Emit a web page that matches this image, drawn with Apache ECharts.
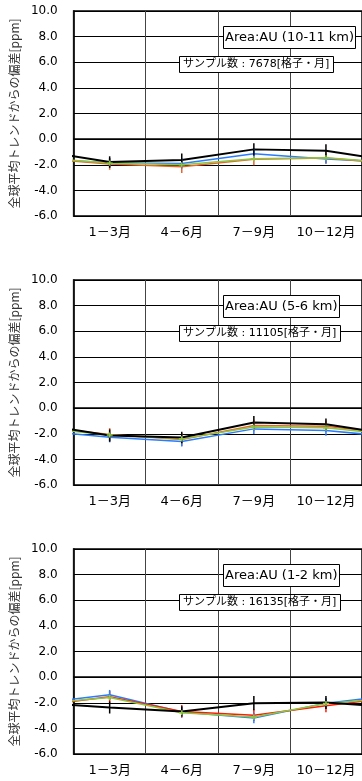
<!DOCTYPE html>
<html>
<head>
<meta charset="utf-8">
<script src="https://cdn.jsdelivr.net/npm/echarts@6/dist/echarts.min.js"></script>
<style>
  html, body { margin: 0; padding: 0; background: #fff; }
  #main { width: 362px; height: 781px; }
</style>
</head>
<body>
<div id="main"></div>
<script>
// categories and panel labels
const months = ['1－3月', '4－6月', '7－9月', '10－12月'];
const areaNames = ['Area:AU (10-11 km)', 'Area:AU (5-6 km)', 'Area:AU (1-2 km)'];
const sampleCounts = [7678, 11105, 16135];
const yName = '全球平均トレンドからの偏差[ppm]';

// panel 1: 10-11 km
const black1 = [-1.79, -1.63, -0.80, -0.90];
const blue1  = [-1.84, -1.90, -1.14, -1.55];
const red1   = [-1.94, -2.15, -1.58, -1.48];
const green1 = [-1.87, -2.00, -1.53, -1.45];
const errBlack1 = [0.45, 0.5, 0.47, 0.5];
const errBlue1  = [0.35, 0.4, 0.4, 0.35];
const errRed1   = [0.45, 0.5, 0.45, 0.45];
const errGreen1 = [0.2, 0.2, 0.2, 0.2];

// panel 2: 5-6 km
const black2 = [-2.14, -2.29, -1.12, -1.25];
const blue2  = [-2.27, -2.60, -1.62, -1.75];
const red2   = [-2.06, -2.45, -1.36, -1.41];
const green2 = [-2.10, -2.40, -1.48, -1.54];
const errBlack2 = [0.48, 0.45, 0.5, 0.45];
const errBlue2  = [0.4, 0.4, 0.4, 0.4];
const errRed2   = [0.5, 0.5, 0.45, 0.45];
const errGreen2 = [0.2, 0.2, 0.2, 0.2];

// panel 3: 1-2 km
const black3 = [-2.37, -2.68, -2.03, -1.98];
const blue3  = [-1.38, -2.72, -3.20, -2.03];
const red3   = [-1.54, -2.68, -2.97, -2.24];
const green3 = [-1.59, -2.78, -3.12, -2.06];
const errBlack3 = [0.47, 0.4, 0.55, 0.5];
const errBlue3  = [0.38, 0.4, 0.4, 0.4];
const errRed3   = [0.45, 0.5, 0.45, 0.5];
const errGreen3 = [0.2, 0.2, 0.2, 0.2];

const panels = [
  { black: black1, blue: blue1, red: red1, green: green1,
    err: [errBlack1, errBlue1, errRed1, errGreen1], redColor: '#e8642c' },
  { black: black2, blue: blue2, red: red2, green: green2,
    err: [errBlack2, errBlue2, errRed2, errGreen2], redColor: '#e8642c' },
  { black: black3, blue: blue3, red: red3, green: green3,
    err: [errBlack3, errBlue3, errRed3, errGreen3], redColor: '#ff1a00' }
];

const gridTops = [11, 280, 549];
const blueColor = '#2a7cff';
const greenColor = '#8dc63f';

// seasonal cycle: wrap last quarter to the left edge and first to the right
function cyclePoints(vals) {
  const pts = [[-0.5, vals[3]]];
  vals.forEach((v, i) => pts.push([i + 0.5, v]));
  pts.push([4.5, vals[0]]);
  return pts;
}

function errSeries(idx, vals, errs, color, cross) {
  return {
    type: 'custom',
    xAxisIndex: idx * 2 + 1,
    yAxisIndex: idx,
    data: vals.map((v, i) => [i + 0.5, v, errs[i]]),
    renderItem: function (params, api) {
      const x = api.value(0), v = api.value(1), e = api.value(2);
      const top = api.coord([x, v + e]);
      const bot = api.coord([x, v - e]);
      const kids = [{
        type: 'line',
        shape: { x1: top[0], y1: top[1], x2: bot[0], y2: bot[1] },
        style: { stroke: color, lineWidth: 1.5 }
      }];
      if (cross) {
        const c = api.coord([x, v]);
        kids.push({
          type: 'line',
          shape: { x1: c[0] - 3, y1: c[1], x2: c[0] + 3, y2: c[1] },
          style: { stroke: color, lineWidth: 1.5 }
        });
      }
      return { type: 'group', children: kids };
    },
    z: 5
  };
}

function lineSeries(idx, vals, color, width) {
  return {
    type: 'line',
    xAxisIndex: idx * 2 + 1,
    yAxisIndex: idx,
    data: cyclePoints(vals),
    symbol: 'none',
    clip: true,
    lineStyle: { color: color, width: width },
    z: 3
  };
}

const grids = [], xAxes = [], yAxes = [], series = [], titles = [];

gridTops.forEach((top, i) => {
  const p = panels[i];
  grids.push({
    left: 69, top: top, width: 296, height: 205,
    show: true, borderColor: '#000', borderWidth: 1.5
  });
  xAxes.push({
    type: 'category', gridIndex: i, data: months, boundaryGap: true,
    axisLine: { show: true, lineStyle: { color: '#000', width: 1.5 } },
    axisTick: { show: false, interval: 0 },
    axisLabel: {
      interval: 0, color: '#000', fontSize: 13, margin: 10,
      fontFamily: '"DejaVu Sans", "Noto Sans CJK JP"'
    },
    splitLine: { show: true, interval: 0, lineStyle: { color: '#444', width: 1 } }
  });
  xAxes.push({ type: 'value', gridIndex: i, min: 0, max: 4, show: false });
  yAxes.push({
    type: 'value', gridIndex: i, min: -6, max: 10, interval: 2,
    name: yName, nameLocation: 'middle', nameGap: 49,
    nameTextStyle: { fontSize: 12, color: '#333', fontFamily: 'Noto Sans CJK JP' },
    axisLine: { show: true, lineStyle: { color: '#000', width: 1.5 } },
    axisTick: { show: false },
    axisLabel: {
      color: '#000', fontSize: 12, margin: 16, fontFamily: 'DejaVu Sans',
      formatter: v => v.toFixed(1)
    },
    splitLine: { show: true, lineStyle: { color: '#000', width: 1 } }
  });

  series.push(lineSeries(i, p.blue, blueColor, 1.5));
  series.push(lineSeries(i, p.red, p.redColor, 1.5));
  series.push(lineSeries(i, p.green, greenColor, 1.5));
  series.push(lineSeries(i, p.black, '#000', 2));
  series.push(errSeries(i, p.red, p.err[2], p.redColor, false));
  series.push(errSeries(i, p.blue, p.err[1], blueColor, false));
  series.push(errSeries(i, p.black, p.err[0], '#000', false));
  series.push(errSeries(i, p.green, p.err[3], greenColor, true));

  titles.push({
    text: areaNames[i], left: 223, top: top + 15,
    padding: [5, 2], borderColor: '#000', borderWidth: 1, backgroundColor: '#fff',
    textStyle: { fontSize: 13, fontWeight: 'normal', color: '#000', fontFamily: 'DejaVu Sans' }
  });
  titles.push({
    text: 'サンプル数 : ' + sampleCounts[i] + '[格子・月]', left: 179, top: top + 45,
    padding: [3, 4], borderColor: '#000', borderWidth: 1, backgroundColor: '#fff',
    textStyle: {
      fontSize: 11, fontWeight: 'normal', color: '#000',
      fontFamily: '"DejaVu Sans", "Noto Sans CJK JP"'
    }
  });
});

const myChart = echarts.init(document.getElementById('main'));
myChart.setOption({
  animation: false,
  title: titles,
  grid: grids,
  xAxis: xAxes,
  yAxis: yAxes,
  series: series
});
</script>
</body>
</html>
